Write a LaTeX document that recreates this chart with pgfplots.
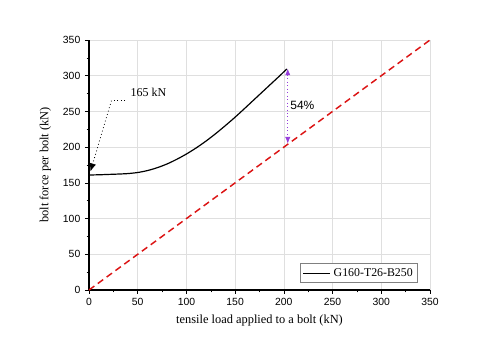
\documentclass[border=0pt]{standalone}
\usepackage{fontspec}
\setmainfont{Liberation Serif}
\setsansfont{Liberation Sans}
\usepackage{pgfplots}
\pgfplotsset{compat=1.18}
\usetikzlibrary{arrows.meta}
\definecolor{myred}{RGB}{220,20,20}
\definecolor{mypurple}{RGB}{150,60,220}
\begin{document}
\begin{tikzpicture}
\path[use as bounding box] (-66.75pt,-44.25pt) rectangle (308.25pt,217.5pt);
\begin{axis}[
  at={(0,0)}, anchor=south west,
  scale only axis, width=255.75pt, height=187.5pt,
  xmin=0, xmax=350, ymin=0, ymax=350,
  xtick={0,50,...,350}, ytick={0,50,...,350},
  minor tick num=1,
  axis lines*=left,
  tick align=outside,
  major tick length=3pt, minor tick length=1.8pt,
  every tick/.style={black, thin},
  axis line style={black, line width=0.8pt},
  grid=major,
  major grid style={gray!25, line width=0.5pt},
  /pgf/number format/assume math mode=true,
  tick label style={font=\sffamily\fontsize{7.8}{9}\selectfont},
  xlabel={tensile load applied to a bolt (kN)},
  ylabel={bolt force per bolt (kN)},
  label style={font=\fontsize{9.3}{11}\selectfont},
  xlabel style={yshift=0pt},
  ylabel style={yshift=2pt},
  legend style={at={(0.964,0.028)}, anchor=south east, draw=gray, line width=0.4pt,
    font=\fontsize{8.9}{10.5}\selectfont, inner sep=1.5pt, row sep=0pt},
  legend cell align=left,
  legend image code/.code={\draw[#1] (0cm,0cm) -- (0.72cm,0cm);},
  clip=false,
]
\addplot[myred, line width=1.1pt, dash pattern=on 5pt off 3.2pt, forget plot] coordinates {(0,0) (350,350)};
\addplot[black, line width=0.9pt, smooth] coordinates {
(0,161) (10,161.3) (20,161.8) (30,162.3) (40,163) (50,164.5) (60,167.2) (70,171.2) (80,176.4) (90,182.9) (100,190.4) (110,198.9) (120,208.4) (130,218.9) (140,230.2) (150,242) (160,254.5) (170,267.2) (180,279.9) (190,292.6) (197,301.5) (203,309.5)};
\addlegendentry{G160-T26-B250}
\draw[black, dotted, semithick] (axis cs:37,265) -- (axis cs:23,265);
\draw[black, dotted, semithick, -{Latex[length=6pt,width=5pt]}] (axis cs:23,265) -- (axis cs:1.5,166);
\node[anchor=west, font=\fontsize{9}{11}\selectfont, inner sep=1pt] at (axis cs:41,276) {165 kN};
\draw[mypurple, dotted, semithick, {Latex[length=5pt,width=4pt]}-{Latex[length=5pt,width=4pt]}] (axis cs:204,310) -- (axis cs:204,205);
\node[anchor=west, font=\sffamily\fontsize{9}{11}\selectfont, inner sep=1pt] at (axis cs:205,258) {54\%};
\end{axis}
\end{tikzpicture}
\end{document}
